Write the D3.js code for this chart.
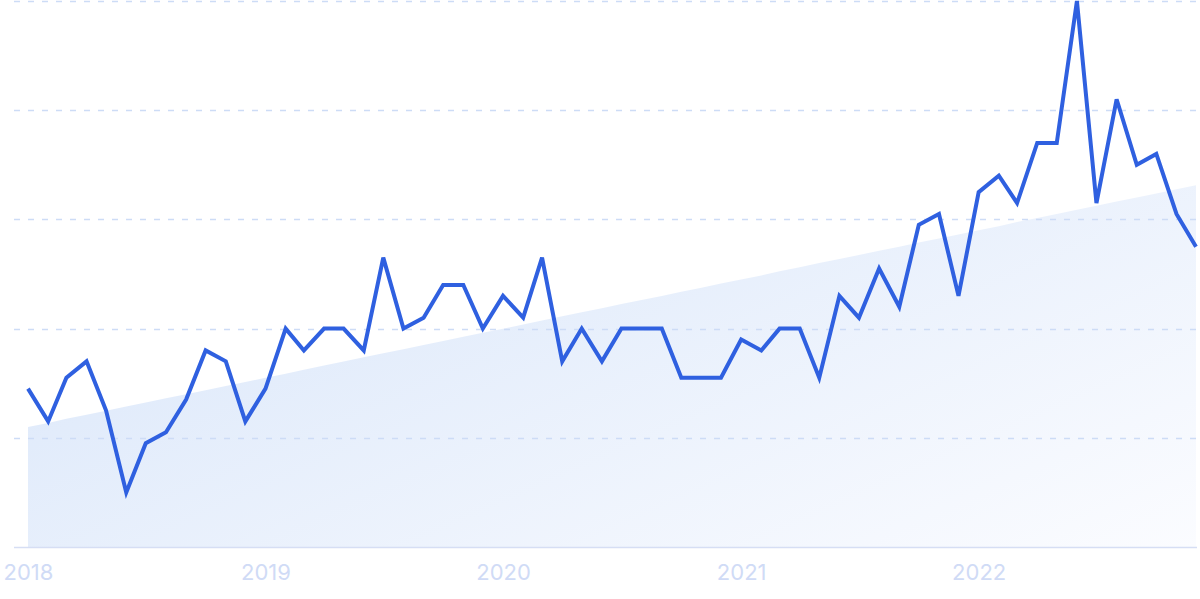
<!DOCTYPE html>
<html>
<head>
<meta charset="utf-8">
<script src="https://cdn.jsdelivr.net/npm/d3@7"></script>
<style>
  html, body { margin: 0; padding: 0; background: #ffffff; }
  svg { display: block; }
</style>
</head>
<body>
<svg id="chart" width="1200" height="599"></svg>
<script>
// ---- data (monthly, Jan 2018 – Dec 2022) ----
const startYear = 2018;
const values = [29,23,31,34,25,10,19,21,27,36,34,23,
                29,40,36,40,40,36,53,40,42,48,48,40,
                46,42,53,34,40,34,40,40,40,31,31,31,
                38,36,40,40,31,46,42,51,44,59,61,46,
                65,68,63,74,74,100,63,82,70,72,61,55];
const yearTicks = [2018, 2019, 2020, 2021, 2022];
const gridValues = [0, 20, 40, 60, 80, 100];

(function () {
const dates = values.map((v, i) => new Date(startYear, i, 1));
const data = values.map((v, i) => ({ date: dates[i], value: v, i }));

const svg = d3.select("#chart");
const mLeft = 28, mRight = 1196, mTop = 1, mBottom = 547;

const x = d3.scaleTime()
  .domain([dates[0], dates[dates.length - 1]])
  .range([mLeft, mRight]);
const y = d3.scaleLinear().domain([0, 100]).range([mBottom, mTop]);

// gradient for trend area
const defs = svg.append("defs");
const grad = defs.append("linearGradient")
  .attr("id", "trendFill")
  .attr("x1", "0%").attr("y1", "30%")
  .attr("x2", "100%").attr("y2", "100%");
grad.append("stop").attr("offset", "0%").attr("stop-color", "#dce8fa");
grad.append("stop").attr("offset", "100%").attr("stop-color", "#fbfcff");

// linear regression trend area
const mx = d3.mean(data, d => d.i);
const my = d3.mean(values);
const sxy = d3.sum(data, d => (d.i - mx) * (d.value - my));
const sxx = d3.sum(data, d => (d.i - mx) * (d.i - mx));
const slope = sxy / sxx;
const intercept = my - slope * mx;
const trend = data.map(d => ({ date: d.date, value: intercept + slope * d.i }));

svg.append("path")
  .datum(trend)
  .attr("fill", "url(#trendFill)")
  .attr("d", d3.area()
    .x(d => x(d.date))
    .y0(mBottom)
    .y1(d => y(d.value)));

// grid lines (drawn over the fill)
svg.append("g")
  .selectAll("line")
  .data(gridValues.filter(d => d > 0))
  .join("line")
  .attr("x1", 14).attr("x2", 1196)
  .attr("y1", d => Math.round(y(d)) + 0.5)
  .attr("y2", d => Math.round(y(d)) + 0.5)
  .attr("stroke", "#cddcf6")
  .attr("stroke-width", 1.4)
  .attr("stroke-dasharray", "6 8");

// baseline
svg.append("line")
  .attr("x1", 14).attr("x2", 1197)
  .attr("y1", mBottom + 0.5).attr("y2", mBottom + 0.5)
  .attr("stroke", "#d6def4")
  .attr("stroke-width", 1.5);

// x axis labels
const xAxis = d3.axisBottom(x)
  .tickValues(yearTicks.map(yr => new Date(yr, 0, 1)))
  .tickFormat(d3.timeFormat("%Y"))
  .tickSize(0)
  .tickPadding(17);
const gx = svg.append("g")
  .attr("transform", `translate(0,${mBottom})`)
  .call(xAxis);
gx.select(".domain").remove();
gx.selectAll("text")
  .attr("fill", "#d0dbf6")
  .style("font-family", "Inter, 'Noto Sans', sans-serif")
  .style("font-size", "22px");

// main line
svg.append("path")
  .datum(data)
  .attr("fill", "none")
  .attr("stroke", "#2f60e0")
  .attr("stroke-width", 4)
  .attr("stroke-linejoin", "miter")
  .attr("d", d3.line()
    .x(d => x(d.date))
    .y(d => y(d.value)));
})();
</script>
</body>
</html>
